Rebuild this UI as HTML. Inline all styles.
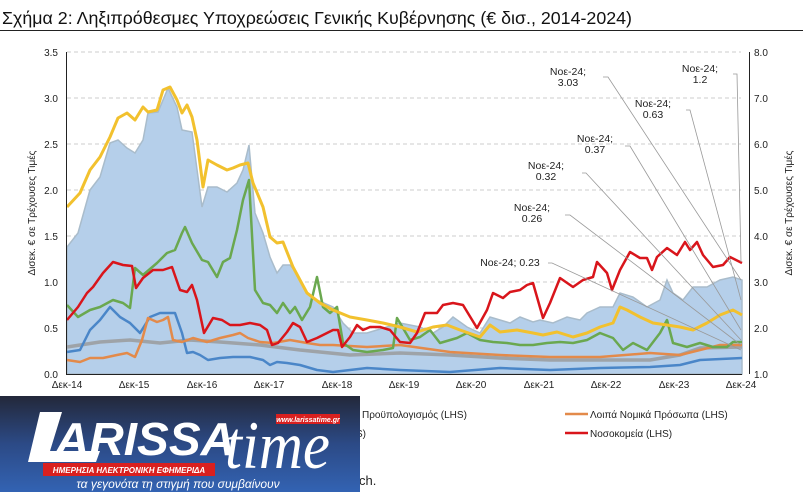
<!DOCTYPE html>
<html><head><meta charset="utf-8"><style>
html,body{margin:0;padding:0;background:#fff;width:803px;height:493px;overflow:hidden;font-family:"Liberation Sans",sans-serif}
svg{position:absolute;left:0;top:0}
</style></head><body>
<svg width="803" height="493" viewBox="0 0 803 493" xmlns="http://www.w3.org/2000/svg" font-family="Liberation Sans, DejaVu Sans, sans-serif">
<defs>
<linearGradient id="lg" x1="0" y1="0" x2="0" y2="1"><stop offset="0" stop-color="#23283a"/><stop offset="0.5" stop-color="#2c4a86"/><stop offset="1" stop-color="#3363b3"/></linearGradient>
</defs>
<text x="2" y="24" font-size="17.5" fill="#111" textLength="630" lengthAdjust="spacingAndGlyphs">Σχήμα 2: Ληξιπρόθεσμες Υποχρεώσεις Γενικής Κυβέρνησης (€ δισ., 2014-2024)</text>
<line x1="0" y1="30.5" x2="803" y2="30.5" stroke="#222" stroke-width="1"/>
<g stroke="#ccc" stroke-dasharray="4,3" stroke-width="1">
<line x1="67" y1="52" x2="741" y2="52"/><line x1="67" y1="98" x2="741" y2="98"/><line x1="67" y1="144" x2="741" y2="144"/><line x1="67" y1="190" x2="741" y2="190"/><line x1="67" y1="236" x2="741" y2="236"/><line x1="67" y1="282" x2="741" y2="282"/><line x1="67" y1="328" x2="741" y2="328"/>
</g>
<polygon fill="#b5cfea" stroke="#a9bccb" stroke-width="1.5" points="67,374 67,247 78,233 90,190 100,177 110,143 118,140 127,148 135,153 143,140 148,113 158,112 168,88 177,107 182,130 192,132 202,207 208,187 217,187 227,192 237,183 243,170 249,145 255,213 263,233 270,257 277,273 283,265 290,265 297,273 307,293 317,300 333,307 343,323 353,333 367,333 377,330 400,323 420,327 433,333 443,327 453,317 467,327 480,333 490,317 500,320 510,323 520,317 533,322 540,320 553,323 567,317 580,320 587,313 600,307 613,307 620,293 633,297 647,307 660,300 667,280 673,293 683,300 693,287 707,287 720,280 733,277 742,280 742,374"/>
<g fill="none" stroke-linejoin="round" stroke-width="2.5">
<polyline stroke="#9ea3a8" stroke-width="3.5" points="67,347 100,342 130,340 160,343 190,340 220,342 260,345 300,350 350,355 400,353 450,355 500,358 550,360 600,360 650,360 680,355 700,348 742,347"/>
<polyline stroke="#4a86c8" points="67,352 80,350 90,330 100,320 110,307 120,317 130,323 140,333 150,317 160,313 175,313 182,333 187,353 193,352 200,355 208,360 220,358 233,357 250,357 263,360 270,365 277,362 287,363 300,365 317,370 333,372 350,370 367,368 400,370 450,372 500,368 550,370 600,368 650,367 680,365 700,360 742,358"/>
<polyline stroke="#e38a4a" points="67,360 80,362 90,358 103,358 117,355 127,353 135,357 142,340 148,318 157,322 163,320 168,317 173,340 182,342 193,338 207,342 220,338 233,335 240,333 248,338 260,342 273,343 290,340 307,343 320,345 333,345 367,347 400,345 450,352 500,355 550,357 600,357 650,353 680,355 700,350 720,345 742,345"/>
<polyline stroke="#6aa84f" points="67,305 78,317 90,310 100,307 113,300 123,303 130,308 135,268 143,275 157,263 167,253 175,250 182,233 185,227 192,243 202,260 208,262 217,277 223,262 230,258 237,230 243,200 249,180 255,290 263,303 270,305 277,313 283,303 290,313 295,307 302,320 310,307 317,277 323,307 330,313 337,307 343,343 353,350 367,352 383,350 393,348 397,318 400,323 410,340 420,337 430,330 440,343 457,338 467,333 480,340 493,342 507,343 520,345 533,345 547,343 560,342 573,343 587,340 600,333 613,338 623,350 633,343 647,350 660,333 667,320 673,343 687,347 700,343 713,347 727,347 733,342 742,342"/>
<polyline stroke="#f2c12e" stroke-width="3" points="67,207 80,193 90,170 100,157 110,137 118,118 127,113 135,120 143,107 148,112 157,110 163,90 170,87 177,100 182,113 187,105 192,117 197,140 203,187 208,160 217,165 227,170 233,168 240,165 248,163 253,183 263,207 270,237 277,243 283,242 293,267 307,293 320,303 333,310 350,317 367,320 383,323 400,327 417,332 433,327 447,325 460,330 480,337 490,325 500,332 517,330 533,333 543,335 557,332 573,337 587,333 600,327 613,323 620,307 627,310 640,317 653,323 667,325 680,327 693,330 707,323 720,315 733,310 742,315"/>
<polyline stroke="#d9151b" points="67,320 78,307 87,293 93,287 103,273 113,262 123,265 132,266 136,288 143,278 153,270 163,270 172,267 180,290 187,292 192,285 197,300 204,333 213,318 222,320 230,325 240,325 250,323 260,325 267,330 272,345 278,343 287,332 293,323 300,327 307,342 317,338 327,333 333,330 338,330 342,347 350,337 357,325 363,330 370,327 380,327 390,330 400,342 410,343 417,333 425,313 437,313 443,305 453,303 463,305 477,328 487,310 493,293 503,298 510,292 520,290 527,285 533,283 543,318 550,303 560,278 573,287 583,280 593,277 597,262 607,273 612,290 620,270 630,252 640,258 647,258 652,270 657,257 667,248 677,255 685,242 690,250 697,242 703,255 713,267 723,265 730,257 742,263"/>
</g>
<g stroke="#999" stroke-width="0.8" fill="none">
<polyline points="603,77 608,77 741,280"/>
<polyline points="733,74 737,74 741,262"/>
<polyline points="686,110 690,110 741,300"/>
<polyline points="625,146 630,146 741,330"/>
<polyline points="582,173 586,173 741,340"/>
<polyline points="565,215 570,215 741,345"/>
<polyline points="548,263 552,263 741,350"/>
</g>
<g font-size="10.5" fill="#222" text-anchor="middle">
<text x="568" y="75">Νοε-24;</text><text x="568" y="86">3.03</text>
<text x="700" y="72">Νοε-24;</text><text x="700" y="83">1.2</text>
<text x="653" y="107">Νοε-24;</text><text x="653" y="118">0.63</text>
<text x="595" y="142">Νοε-24;</text><text x="595" y="153">0.37</text>
<text x="546" y="169">Νοε-24;</text><text x="546" y="180">0.32</text>
<text x="532" y="211">Νοε-24;</text><text x="532" y="222">0.26</text>
<text x="510" y="266">Νοε-24; 0.23</text>
</g>
<g stroke="#222" stroke-width="1">
<line x1="66.5" y1="52" x2="66.5" y2="374"/>
<line x1="66" y1="374.5" x2="742" y2="374.5"/>
<line x1="749.5" y1="52" x2="749.5" y2="374"/>
</g>
<g font-size="10" fill="#222" text-anchor="end">
<text x="58" y="56">3.5</text><text x="58" y="102">3.0</text><text x="58" y="148">2.5</text><text x="58" y="194">2.0</text><text x="58" y="240">1.5</text><text x="58" y="286">1.0</text><text x="58" y="332">0.5</text><text x="58" y="378">0.0</text>
</g>
<g font-size="10" fill="#222">
<text x="754" y="56">8.0</text><text x="754" y="102">7.0</text><text x="754" y="148">6.0</text><text x="754" y="194">5.0</text><text x="754" y="240">4.0</text><text x="754" y="286">3.0</text><text x="754" y="332">2.0</text><text x="754" y="378">1.0</text>
</g>
<g font-size="10" fill="#222" text-anchor="middle">
<text x="67" y="388">Δεκ-14</text><text x="134" y="388">Δεκ-15</text><text x="202" y="388">Δεκ-16</text><text x="269" y="388">Δεκ-17</text><text x="337" y="388">Δεκ-18</text><text x="404" y="388">Δεκ-19</text><text x="471" y="388">Δεκ-20</text><text x="539" y="388">Δεκ-21</text><text x="606" y="388">Δεκ-22</text><text x="674" y="388">Δεκ-23</text><text x="741" y="388">Δεκ-24</text>
</g>
<text transform="translate(35,213) rotate(-90)" font-size="10" fill="#222" text-anchor="middle">Δισεκ. € σε Τρέχουσες Τιμές</text>
<text transform="translate(792,213) rotate(-90)" font-size="10" fill="#222" text-anchor="middle">Δισεκ. € σε Τρέχουσες Τιμές</text>
<g font-size="10" fill="#222">
<text x="362" y="418">Προϋπολογισμός (LHS)</text>
<text x="356" y="437">S)</text>
<line x1="565" y1="414" x2="588" y2="414" stroke="#e38a4a" stroke-width="2.5"/>
<text x="590" y="418">Λοιπά Νομικά Πρόσωπα (LHS)</text>
<line x1="565" y1="433" x2="588" y2="433" stroke="#d9151b" stroke-width="2.5"/>
<text x="590" y="437">Νοσοκομεία (LHS)</text>
</g>
<text x="359" y="485" font-size="13" fill="#222">ch.</text>
<rect x="0" y="396" width="360" height="96" fill="url(#lg)"/>
<polygon points="40,412 62,412 50,451 100,451 96,462 28,462" fill="#fff"/>
<text x="55" y="455" font-size="46" font-weight="bold" font-style="italic" fill="#fff" textLength="180" lengthAdjust="spacingAndGlyphs">ARISSA</text>
<text x="225" y="468" font-size="68" font-family="Liberation Serif, serif" font-style="italic" fill="#fff" textLength="105" lengthAdjust="spacingAndGlyphs">time</text>
<rect x="276" y="414" width="64" height="10" fill="#d9201f"/>
<text x="308" y="422" font-size="7" font-weight="bold" font-style="italic" fill="#fff" text-anchor="middle">www.larissatime.gr</text>
<rect x="43" y="463" width="172" height="13" fill="#d9201f"/>
<text x="129" y="473" font-size="8" font-weight="bold" font-style="italic" fill="#fff" text-anchor="middle">ΗΜΕΡΗΣΙΑ ΗΛΕΚΤΡΟΝΙΚΗ ΕΦΗΜΕΡΙΔΑ</text>
<text x="178" y="488" font-size="12" font-style="italic" fill="#fff" text-anchor="middle">τα γεγονότα τη στιγμή που συμβαίνουν</text>
</svg>
</body></html>
